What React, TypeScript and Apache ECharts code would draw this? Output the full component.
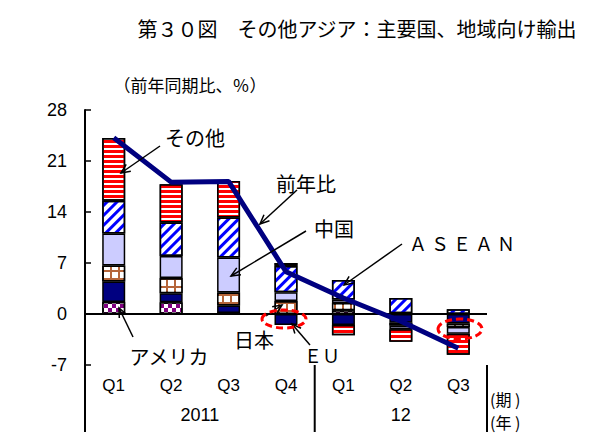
import React, { useEffect, useRef } from "react";
import * as echarts from "echarts";

const categories = ["Q1", "Q2", "Q3", "Q4", "Q1", "Q2", "Q3"];
const years = ["2011", "12"];
const america = [1.65, 1.6, 0.15, 0, 0.5, 0.1, 0];
const eu = [2.8, 1.25, 1.0, -1.5, -1.5, -1.2, -1.3];
const japan = [2.2, 2.1, 1.8, 1.8, 1.0, -0.4, -0.5];
const china = [4.4, 3.0, 4.8, 1.2, 0.5, -0.5, -0.9];
const asean = [4.5, 4.6, 5.5, 3.6, 2.65, 2.1, 0.65];
const other = [8.6, 5.25, 5.0, 0.4, -1.4, -1.7, -2.9];
const yoy = [24.2, 18.1, 18.2, 5.8, 2.2, -1.0, -4.7];
const yMin = -7;
const yMax = 28;
const yStep = 7;

const JP = '"Noto Sans CJK JP", sans-serif';
const LAT = '"Liberation Sans", Arial, sans-serif';

const GRID_LEFT = 85;
const GRID_RIGHT = 106;
const GRID_TOP = 110;
const GRID_BOTTOM = 69;
const W = 593;
const H = 434;

function arrow(x1: number, y1: number, x2: number, y2: number) {
  const ang = Math.atan2(y2 - y1, x2 - x1);
  const L = 10;
  const w = 0.42;
  const p1 = [x2 - L * Math.cos(ang - w), y2 - L * Math.sin(ang - w)];
  const p2 = [x2 - L * Math.cos(ang + w), y2 - L * Math.sin(ang + w)];
  return [
    { type: "line", z: 100, shape: { x1, y1, x2, y2 }, style: { stroke: "#000", lineWidth: 1.5 } },
    { type: "polyline", z: 100, shape: { points: [p1, [x2, y2], p2] }, style: { stroke: "#000", lineWidth: 1.5, fill: null } },
  ];
}

function txt(text: string, x: number, y: number, size: number, font = JP, align = "center") {
  return {
    type: "text",
    z: 100,
    x,
    y,
    style: {
      text,
      fill: "#000",
      font: `${size}px ${font}`,
      textAlign: align,
      align,
      textVerticalAlign: "middle",
      verticalAlign: "middle",
    },
  };
}

function bar(name: string, data: number[], color: string, decal?: any) {
  return {
    type: "bar",
    name,
    data,
    stack: "s",
    barWidth: 23,
    silent: true,
    itemStyle: { color, borderColor: "#000", borderWidth: 1.5, decal },
  };
}

export default function App() {
  const ref = useRef<HTMLDivElement>(null);
  useEffect(() => {
    if (!ref.current) return;
    const chart = echarts.init(ref.current, null, { renderer: "svg" });
    const gw = W - GRID_LEFT - GRID_RIGHT;
    const step = gw / categories.length;
    const bottomY = H - GRID_BOTTOM;
    const sepY2 = 432;
    const graphic: any[] = [
      txt("第３０図　その他アジア：主要国、地域向け輸出", 357, 28, 20),
      txt("（前年同期比、％）", 190, 84, 17),
      // bottom table lines
      { type: "line", z: 100, shape: { x1: GRID_LEFT, y1: bottomY, x2: GRID_LEFT, y2: sepY2 }, style: { stroke: "#000", lineWidth: 2 } },
      { type: "line", z: 100, shape: { x1: GRID_LEFT + step * 4, y1: bottomY, x2: GRID_LEFT + step * 4, y2: sepY2 }, style: { stroke: "#000", lineWidth: 2 } },
      { type: "line", z: 100, shape: { x1: GRID_LEFT + gw, y1: bottomY, x2: GRID_LEFT + gw, y2: sepY2 }, style: { stroke: "#000", lineWidth: 2 } },
      txt(years[0], GRID_LEFT + step * 2, 415, 18, LAT),
      txt(years[1], GRID_LEFT + step * 5.5, 415, 18, LAT),
      txt("(期 )", GRID_LEFT + gw + 3, 399, 16, JP, "left"),
      txt("(年 )", GRID_LEFT + gw + 3, 422, 16, JP, "left"),
      // annotations
      txt("その他", 195, 137, 20),
      txt("前年比", 306, 183, 20),
      txt("中国", 334, 228, 20),
      txt("Ａ Ｓ Ｅ Ａ Ｎ", 462, 243, 18),
      txt("日本", 254, 339, 20),
      txt("ＥＵ", 322, 355, 18),
      txt("アメリカ", 169, 356, 20),
      ...arrow(160, 146, 121, 173),
      ...arrow(297, 190, 260, 224),
      ...arrow(306, 231, 231, 276),
      ...arrow(402, 244, 344, 285),
      ...arrow(266, 316, 282, 305),
      ...arrow(310, 345, 292, 324),
      ...arrow(133, 337, 119, 308),
      {
        type: "ellipse",
        z: 100,
        shape: { cx: 284, cy: 319, rx: 22, ry: 9 },
        style: { fill: null, stroke: "#FF0000", lineWidth: 3, lineDash: [7, 4] },
      },
      {
        type: "ellipse",
        z: 100,
        shape: { cx: 460, cy: 329, rx: 22, ry: 10 },
        style: { fill: null, stroke: "#FF0000", lineWidth: 3, lineDash: [7, 4] },
      },
    ];

    chart.setOption({
      animation: false,
      grid: { left: GRID_LEFT, right: GRID_RIGHT, top: GRID_TOP, bottom: GRID_BOTTOM, containLabel: false },
      xAxis: {
        type: "category",
        data: categories,
        axisLine: { show: false, onZero: false },
        axisTick: { show: false },
        axisLabel: { color: "#000", fontSize: 17, fontFamily: LAT, margin: 12 },
        splitLine: { show: false },
      },
      yAxis: {
        type: "value",
        min: yMin,
        max: yMax,
        interval: yStep,
        axisLine: { show: true, lineStyle: { color: "#000", width: 2 } },
        axisTick: { show: true, inside: true, length: 6, lineStyle: { color: "#000", width: 1.5 } },
        axisLabel: { color: "#000", fontSize: 18, fontFamily: LAT, margin: 18 },
        splitLine: { show: false },
      },
      series: [
        {
          ...bar("アメリカ", america, "#800080", {
            symbol: "rect",
            symbolSize: 1,
            color: "#ffffff",
            dashArrayX: [[4, 4], [0, 4, 4, 0]],
            dashArrayY: [4, 0],
            rotation: 0,
          }),
          markLine: {
            silent: true,
            symbol: "none",
            label: { show: false },
            lineStyle: { color: "#000", width: 2, type: "solid" },
            data: [{ yAxis: 0 }],
          },
        },
        bar("EU", eu, "#000080"),
        bar("日本", japan, "#B5653A", {
          symbol: "rect",
          symbolSize: 1,
          color: "#ffffff",
          dashArrayX: [6, 2],
          dashArrayY: [6, 2],
          rotation: 0,
        }),
        bar("中国", china, "#CCCCFF"),
        bar("ASEAN", asean, "#ffffff", {
          symbol: "rect",
          symbolSize: 1,
          color: "#0000FF",
          dashArrayX: [[1, 0]],
          dashArrayY: [3, 4],
          rotation: -Math.PI / 4,
        }),
        bar("その他", other, "#ffffff", {
          symbol: "rect",
          symbolSize: 1,
          color: "#FF0000",
          dashArrayX: [[1, 0]],
          dashArrayY: [3, 2],
          rotation: 0,
        }),
        {
          type: "line",
          name: "前年比",
          data: yoy,
          symbol: "none",
          silent: true,
          z: 5,
          lineStyle: { color: "#000080", width: 5 },
          itemStyle: { color: "#000080" },
        },
      ],
      graphic,
    });
    return () => chart.dispose();
  }, []);
  return (
    <div
      ref={ref}
      style={{ position: "fixed", left: 0, top: 0, width: W, height: H, background: "#fff" }}
    />
  );
}
